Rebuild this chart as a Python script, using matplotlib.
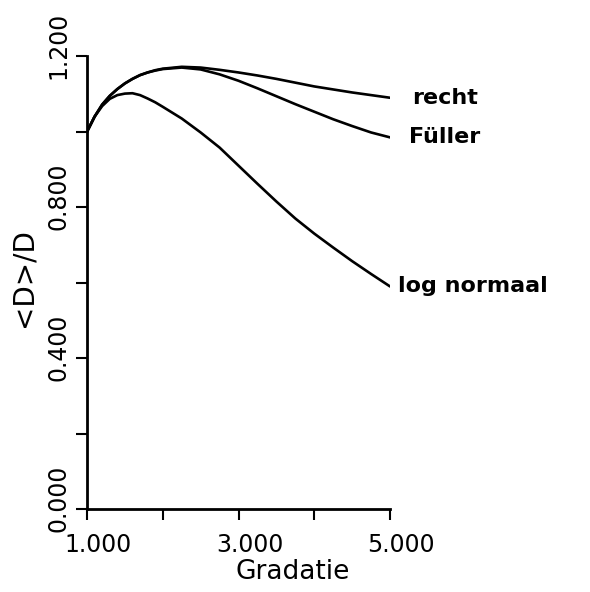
import matplotlib
matplotlib.use('Agg')
import numpy as np
import matplotlib.pyplot as plt
import matplotlib.transforms as mtransforms

gradatie = [1.0, 1.1, 1.2, 1.3, 1.4, 1.5, 1.6, 1.7, 1.8, 1.9, 2.0,
            2.25, 2.5, 2.75, 3.0, 3.25, 3.5, 3.75, 4.0, 4.25, 4.5, 4.75, 5.0]

recht = [1.0, 1.04, 1.072, 1.095, 1.113, 1.128, 1.140, 1.150, 1.157, 1.163, 1.167,
         1.172, 1.170, 1.164, 1.157, 1.149, 1.140, 1.130, 1.120, 1.112, 1.104, 1.097, 1.090]
fuller = [1.0, 1.04, 1.072, 1.095, 1.113, 1.128, 1.140, 1.150, 1.157, 1.162, 1.166,
          1.170, 1.165, 1.152, 1.135, 1.115, 1.094, 1.073, 1.053, 1.033, 1.015, 0.998, 0.985]
log_normaal = [1.0, 1.04, 1.068, 1.087, 1.097, 1.101, 1.102, 1.097, 1.088, 1.078, 1.066,
               1.035, 0.998, 0.958, 0.910, 0.862, 0.815, 0.770, 0.730, 0.693, 0.657, 0.623, 0.590]

series = [('recht', recht, 16), ('Füller', fuller, 14), ('log normaal', log_normaal, 6)]

fig = plt.figure(figsize=(5.9, 5.92), dpi=100)
ax = fig.add_axes([0.1475, 0.140, 0.5136, 0.765])

for name, vals, dx in series:
    ax.plot(gradatie, vals, color='black', linewidth=1.9, solid_capstyle='round')
    ax.annotate(name, xy=(gradatie[-1], vals[-1]), xytext=(dx, 0),
                textcoords='offset points', ha='left', va='center',
                fontsize=16, fontweight='bold', annotation_clip=False)

ax.set_xlim(1, 5)
ax.set_ylim(0, 1.2)

# ticks on every step, labels only on some
ax.set_xticks(np.arange(1, 5.01, 1.0))
ax.set_xticklabels(['1.000', '', '3.000', '', '5.000'])
ax.set_yticks(np.arange(0, 1.201, 0.2))
ax.set_yticklabels(['0.000', '', '0.400', '', '0.800', '', '1.200'])

ax.tick_params(direction='out', length=8, width=1.5, labelsize=17)
ax.tick_params(axis='x', pad=9)
ax.tick_params(axis='y', pad=4)

# plotter style: decimal point sits on the tick, not the label centre
shift_x = mtransforms.ScaledTranslation(8 / 72, 0, fig.dpi_scale_trans)
shift_y = mtransforms.ScaledTranslation(0, 8 / 72, fig.dpi_scale_trans)
for lab in ax.get_xticklabels():
    lab.set_transform(lab.get_transform() + shift_x)
for lab in ax.get_yticklabels():
    lab.set_rotation(90)
    lab.set_va('center')
    lab.set_transform(lab.get_transform() + shift_y)

for side in ['top', 'right']:
    ax.spines[side].set_visible(False)
for side in ['left', 'bottom']:
    ax.spines[side].set_linewidth(2)

ax.set_xlabel('Gradatie', fontsize=19)
ax.xaxis.set_label_coords(0.68, -0.11)
ax.set_ylabel('<D>/D', fontsize=20)
ax.yaxis.set_label_coords(-0.165, 0.512)

plt.savefig('out.png', dpi=100)
